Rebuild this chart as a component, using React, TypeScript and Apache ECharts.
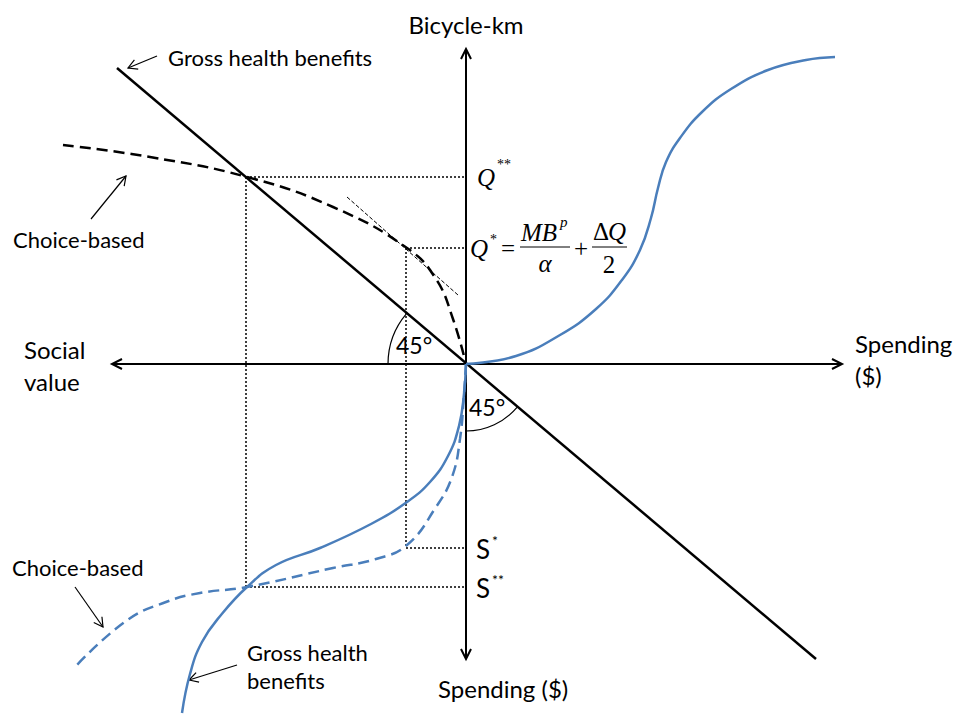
import React, { useEffect, useRef } from "react";
import * as echarts from "echarts";

// Diagram units: 1 unit = 1 screen pixel, origin at the crossing of the axes, y pointing up.
const xRange = [-466, 489];
const yRange = [-351, 364];

const horizontalAxis = [[-354, 0], [376, 0]];
const verticalAxis = [[0, 315], [0, -295]];
const grossBenefitLine = [[-349, 296], [350, -295]];

const choiceBasedCurve = [
  [-403, 219], [-316, 207], [-219, 187], [-133, 157], [-59, 116],
  [-30, 85], [-13, 45], [0, 0],
];
const tangentLine = [[-119, 167], [-8, 69]];

const grossSCurve = [
  [0, 0], [50, 8], [94, 29], [130, 55], [156, 84], [174, 114],
  [185, 146], [192, 176], [200, 202], [214, 226], [236, 252],
  [265, 275], [302, 294], [340, 304], [369, 307],
];

const lowerGrossCurve = [
  [0, 0], [-2, -30], [-7, -62], [-18, -92], [-36, -118], [-59, -138],
  [-95, -160], [-146, -184], [-190, -201], [-219, -223], [-245, -251],
  [-264, -278], [-276, -310], [-284, -349],
];

const lowerChoiceCurve = [
  [0, 0], [-2, -30], [-6, -75], [-14, -113], [-30, -143], [-59, -181],
  [-90, -195], [-133, -204], [-219, -223], [-266, -229], [-300, -238],
  [-340, -257], [-391, -303],
];

// levels read on the axes
const qStarStar = 187;
const qStar = 116;
const sStar = -184;
const sStarStar = -223;
const xStarStar = -220;
const xStar = -60;

const BLUE = "#4a7ebb";
const SANS = "Lato, 'Open Sans', sans-serif";
const SERIF = "'Liberation Serif', 'DejaVu Serif', serif";

function chevron(tip: number[], from: number[], len = 10, half = 5) {
  const dx = tip[0] - from[0];
  const dy = tip[1] - from[1];
  const d = Math.hypot(dx, dy) || 1;
  const ux = dx / d, uy = dy / d;
  const nx = -uy, ny = ux;
  return [
    [tip[0] - len * ux + half * nx, tip[1] - len * uy + half * ny],
    [tip[0], tip[1]],
    [tip[0] - len * ux - half * nx, tip[1] - len * uy - half * ny],
  ];
}

function txt(text: string, x: number, y: number, size: number, opts: any = {}) {
  const family = opts.family || SANS;
  const style = opts.italic ? "italic " : "";
  const align = opts.align || "left";
  return {
    type: "text",
    silent: true,
    style: {
      text,
      x,
      y,
      font: `${style}${size}px ${family}`,
      fill: "#000",
      align,
      textAlign: align,
      verticalAlign: "middle",
      textVerticalAlign: "middle",
    },
  };
}

export default function App() {
  const ref = useRef<HTMLDivElement>(null);

  useEffect(() => {
    document.body.style.margin = "0";
    document.body.style.overflow = "hidden";
    if (!ref.current) return;
    const chart = echarts.init(ref.current, undefined, { renderer: "svg" });

    const lineSeries = (name: string, data: number[][], lineStyle: any, smooth: any = false, z = 2) => ({
      name,
      type: "line",
      data,
      smooth,
      symbol: "none",
      showSymbol: false,
      silent: true,
      z,
      lineStyle,
    });

    const dotted = { color: "#000", width: 1.5, type: [2, 2] };

    chart.setOption({
      animation: false,
      grid: { left: 0, right: 0, top: 0, bottom: 0 },
      xAxis: { type: "value", min: xRange[0], max: xRange[1], show: false },
      yAxis: { type: "value", min: yRange[0], max: yRange[1], show: false },
      series: [
        lineSeries("Q** level", [[xStarStar, qStarStar], [0, qStarStar]], dotted),
        lineSeries("S** drop", [[xStarStar, qStarStar], [xStarStar, sStarStar]], dotted),
        lineSeries("S** level", [[xStarStar, sStarStar], [0, sStarStar]], dotted),
        lineSeries("Q* level", [[xStar, qStar], [0, qStar]], dotted),
        lineSeries("S* drop", [[xStar, qStar], [xStar, sStar]], dotted),
        lineSeries("S* level", [[xStar, sStar], [0, sStar]], dotted),
        lineSeries("Tangent", tangentLine, { color: "#000", width: 1, type: [4, 2] }),
        lineSeries("Horizontal axis", horizontalAxis, { color: "#000", width: 2 }, false, 3),
        lineSeries("Vertical axis", verticalAxis, { color: "#000", width: 2 }, false, 3),
        lineSeries("Gross health benefits", grossBenefitLine, { color: "#000", width: 2.5 }, false, 4),
        lineSeries("Choice-based", choiceBasedCurve, { color: "#000", width: 2.5, type: [11, 6] }, 0.45, 4),
        lineSeries("Gross S-curve", grossSCurve, { color: BLUE, width: 2.5 }, 0.45, 5),
        lineSeries("Lower gross", lowerGrossCurve, { color: BLUE, width: 2.5 }, 0.45, 5),
        lineSeries("Lower choice", lowerChoiceCurve, { color: BLUE, width: 2.5, type: [11, 6] }, 0.45, 5),
      ],
    });

    const px = (p: number[]) => chart.convertToPixel({ gridIndex: 0 }, p) as number[];
    const o = px([0, 0]);
    const gTop = px(grossBenefitLine[0]);
    const gBot = px(grossBenefitLine[1]);

    const axisHeads = [
      chevron(px(horizontalAxis[0]), o),
      chevron(px(horizontalAxis[1]), o),
      chevron(px(verticalAxis[0]), o),
      chevron(px(verticalAxis[1]), o),
    ].map((pts) => ({
      type: "polyline",
      silent: true,
      shape: { points: pts },
      style: { stroke: "#000", lineWidth: 2, fill: null },
    }));

    const upAngle = Math.atan2(gTop[1] - o[1], gTop[0] - o[0]) + 2 * Math.PI;
    const downAngle = Math.atan2(gBot[1] - o[1], gBot[0] - o[0]);

    const arcs = [
      {
        type: "arc",
        silent: true,
        shape: { cx: o[0], cy: o[1], r: 78, startAngle: Math.PI, endAngle: upAngle, clockwise: true },
        style: { stroke: "#000", lineWidth: 1.2, fill: null },
      },
      {
        type: "arc",
        silent: true,
        shape: { cx: o[0], cy: o[1], r: 67, startAngle: downAngle, endAngle: Math.PI / 2, clockwise: true },
        style: { stroke: "#000", lineWidth: 1.2, fill: null },
      },
    ];

    const pointers = [
      [[157, 56], [128, 68]],
      [[91, 219], [126, 176]],
      [[75, 587], [103, 627]],
      [[237, 665], [189, 680]],
    ];
    const pointerEls: any[] = [];
    pointers.forEach(([a, b]) => {
      pointerEls.push({
        type: "line",
        silent: true,
        shape: { x1: a[0], y1: a[1], x2: b[0], y2: b[1] },
        style: { stroke: "#000", lineWidth: 1.2 },
      });
      pointerEls.push({
        type: "polyline",
        silent: true,
        shape: { points: chevron(b, a, 9, 5) },
        style: { stroke: "#000", lineWidth: 1.2, fill: null },
      });
    });

    const formula = [
      txt("Q", 477, 177, 25, { family: SERIF, italic: true }),
      txt("**", 497, 164, 14, { family: SERIF }),
      txt("Q", 470, 248, 25, { family: SERIF, italic: true }),
      txt("*", 490, 239, 14, { family: SERIF }),
      txt("=", 508, 248, 25, { family: SERIF, align: "center" }),
      txt("MB", 521, 232, 25, { family: SERIF, italic: true }),
      txt("p", 560, 222, 15, { family: SERIF, italic: true }),
      txt("α", 545, 263, 25, { family: SERIF, italic: true, align: "center" }),
      txt("+", 581, 248, 25, { family: SERIF, align: "center" }),
      txt("Δ", 593, 231, 25, { family: SERIF }),
      txt("Q", 608, 231, 25, { family: SERIF, italic: true }),
      txt("2", 609, 264, 25, { family: SERIF, align: "center" }),
      { type: "line", silent: true, shape: { x1: 520, y1: 247, x2: 570, y2: 247 }, style: { stroke: "#000", lineWidth: 1 } },
      { type: "line", silent: true, shape: { x1: 592, y1: 247, x2: 627, y2: 247 }, style: { stroke: "#000", lineWidth: 1 } },
    ];

    const labels = [
      txt("Bicycle-km", 466, 24, 24, { align: "center" }),
      txt("Gross health benefits", 168, 57, 22),
      txt("Choice-based", 13, 239, 22),
      txt("Social", 24, 349, 24),
      txt("value", 24, 381, 24),
      txt("Spending", 855, 343, 24),
      txt("($)", 855, 375, 24),
      txt("45°", 396, 345, 23),
      txt("45°", 469, 407, 23),
      txt("S", 476, 549, 26),
      txt("*", 492, 540, 14),
      txt("S", 476, 588, 26),
      txt("**", 492, 579, 14),
      txt("Choice-based", 12, 567, 22),
      txt("Gross health", 247, 652, 22),
      txt("benefits", 247, 680, 22),
      txt("Spending ($)", 438, 688, 24),
    ];

    chart.setOption({
      graphic: { elements: [...axisHeads, ...arcs, ...pointerEls, ...formula, ...labels] },
    });

    return () => chart.dispose();
  }, []);

  return <div ref={ref} style={{ width: 955, height: 715, background: "#fff" }} />;
}
